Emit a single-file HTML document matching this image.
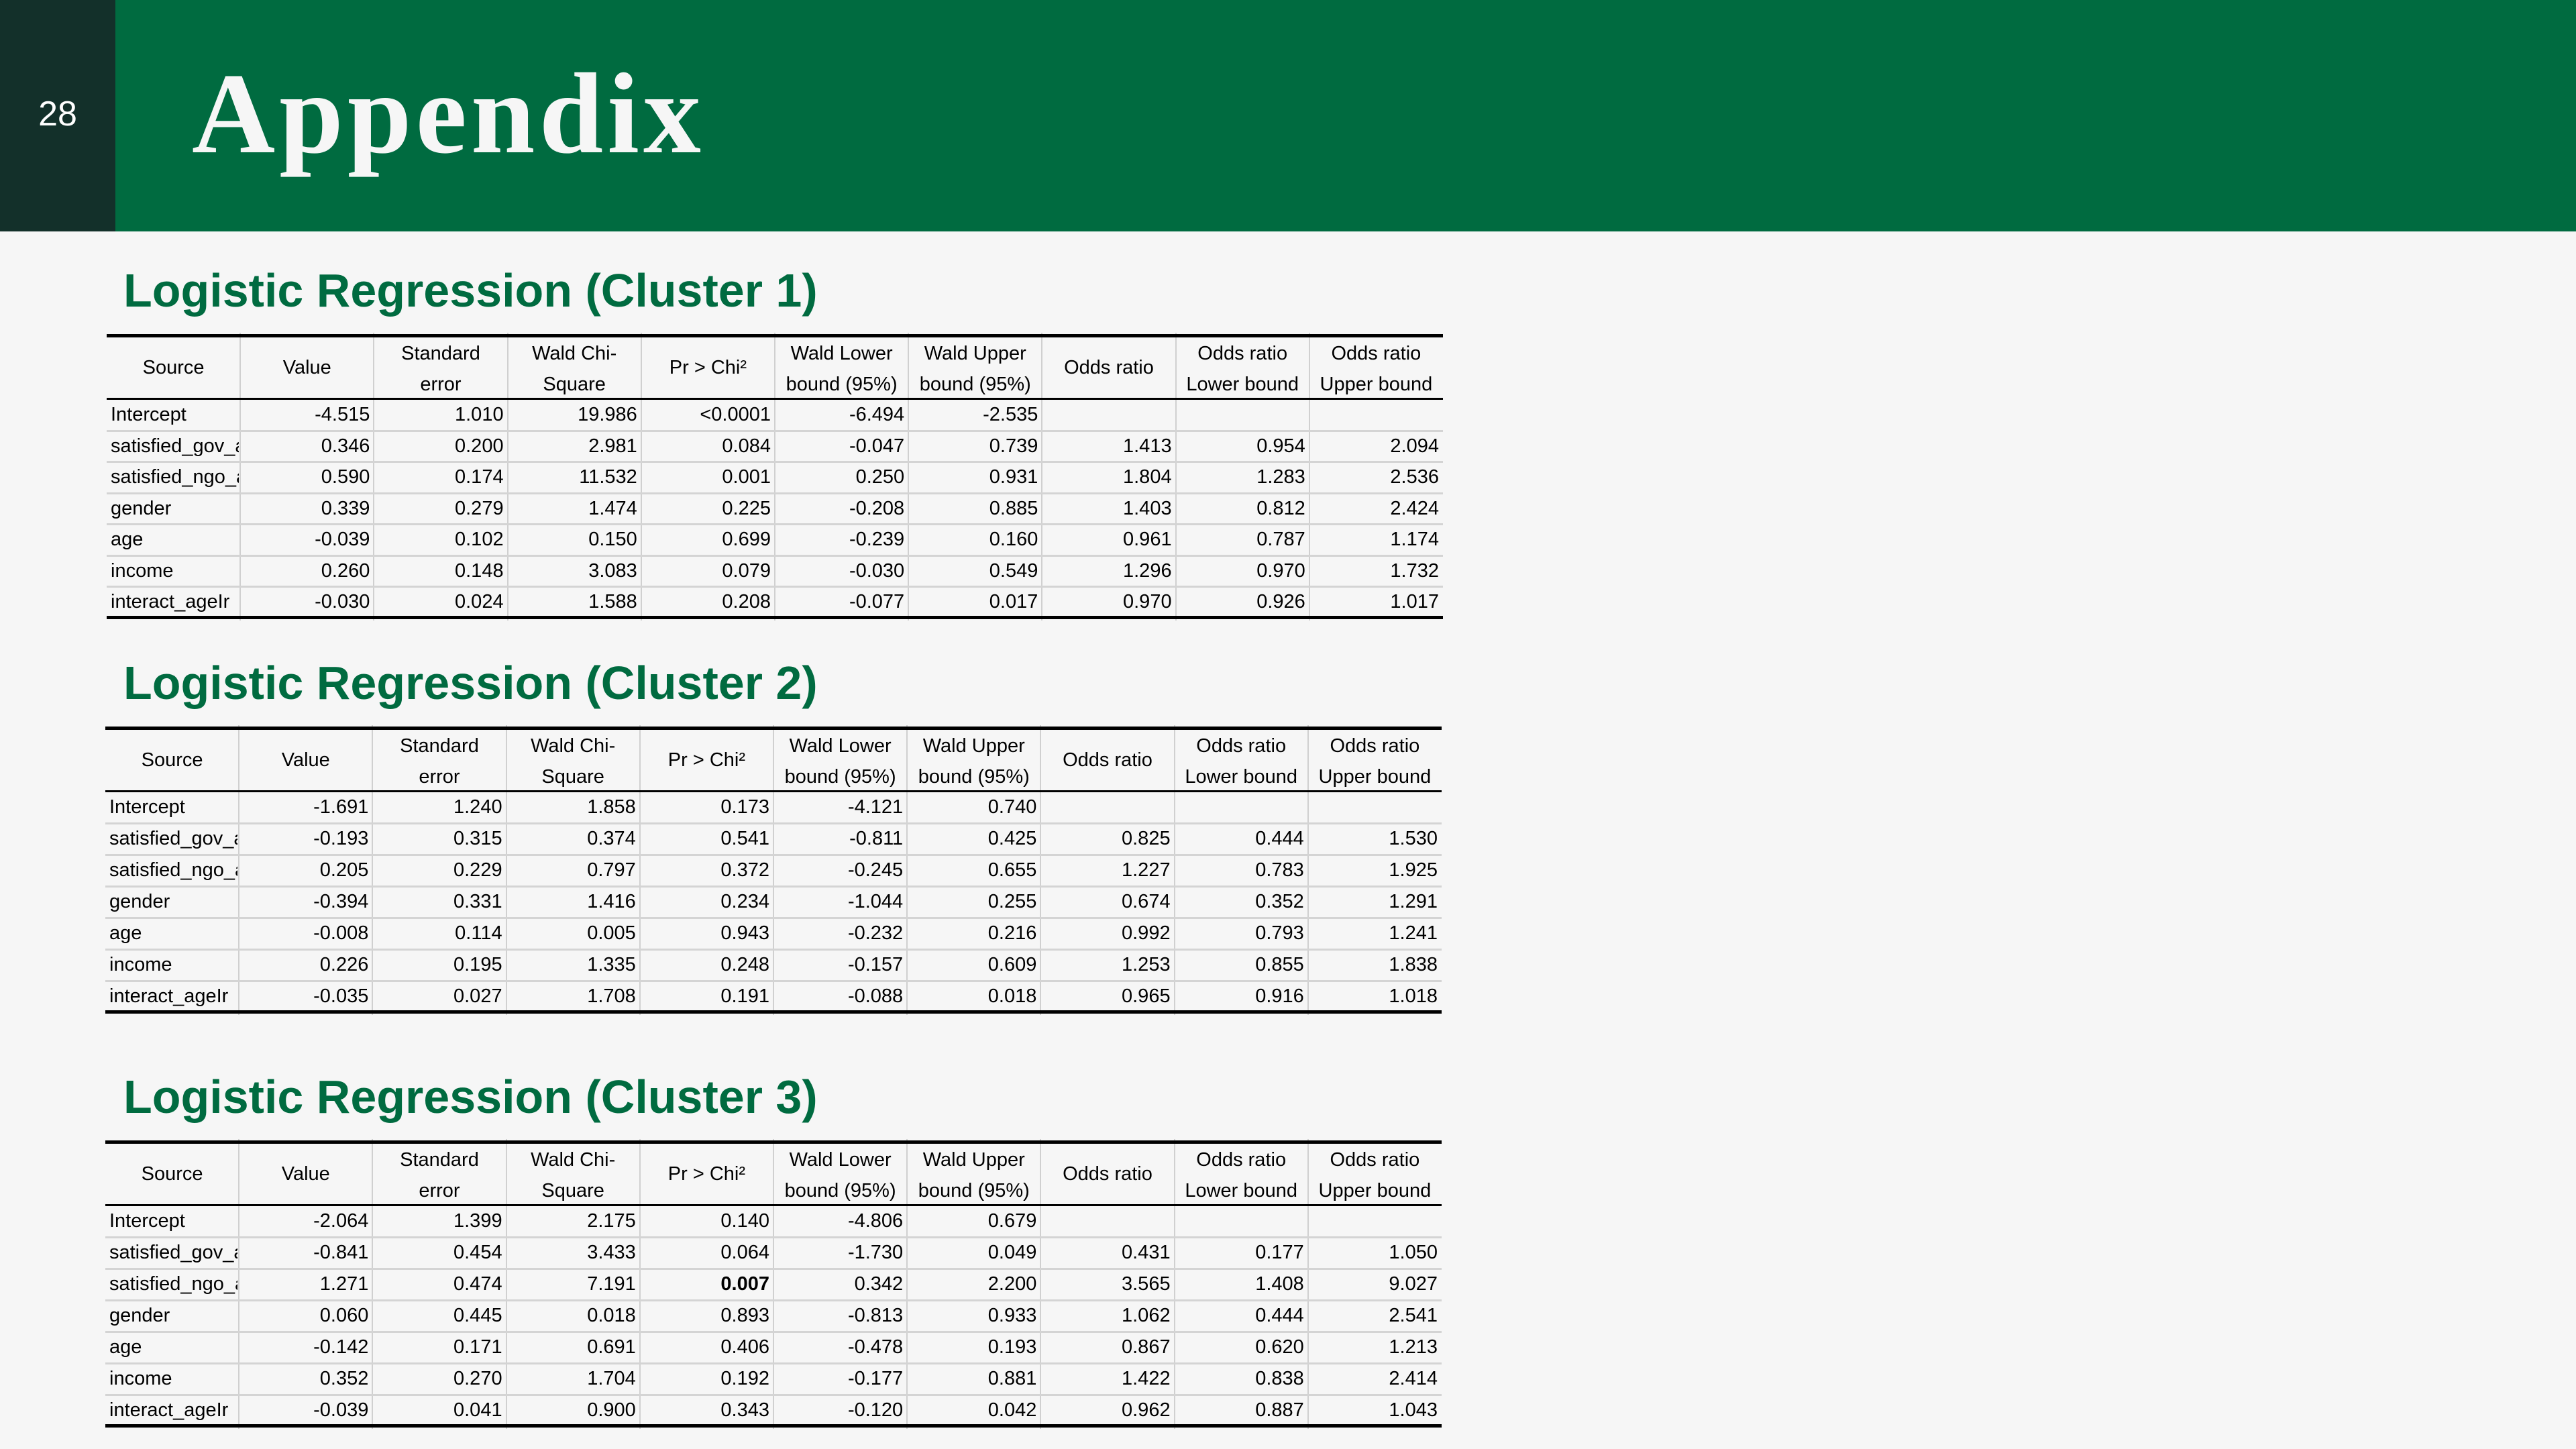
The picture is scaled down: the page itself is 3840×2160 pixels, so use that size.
<!DOCTYPE html>
<html><head><meta charset="utf-8">
<style>
html,body{margin:0;padding:0}
body{width:3840px;height:2160px;background:#f6f6f6;position:relative;overflow:hidden;font-family:"Liberation Sans",sans-serif}
#band{position:absolute;left:0;top:0;width:3840px;height:345px;background:#006b40}
#blk{position:absolute;left:0;top:0;width:172px;height:345px;background:#13302a}
#pg{position:absolute;left:0;width:172px;top:140px;text-align:center;color:#fff;font-size:52px}
#title{position:absolute;left:286px;top:72px;color:#f6f6f6;font-family:"Liberation Serif",serif;font-weight:bold;font-size:172px;letter-spacing:6px}
.h{position:absolute;left:184px;color:#006b40;font-weight:bold;font-size:70px;white-space:nowrap}
.tbl{position:absolute}
.c{position:absolute;font-size:29px;color:#000;white-space:nowrap;overflow:hidden;box-sizing:border-box;transform-origin:left top}
.vl{position:absolute;width:2px;background:#d0d0d0}
.hl{position:absolute;height:3px;background:#d4d4d4}
.bl{position:absolute;background:#000}
</style></head>
<body>
<div id="band"></div>
<div id="blk"></div>
<div id="pg">28</div>
<div id="title">Appendix</div>
<div class="h" style="top:393px">Logistic Regression (Cluster 1)</div>
<div class="h" style="top:978px">Logistic Regression (Cluster 2)</div>
<div class="h" style="top:1595px">Logistic Regression (Cluster 3)</div>
<script>
const headers1=["Source","Value","Standard","Wald Chi-","Pr > Chi²","Wald Lower","Wald Upper","Odds ratio","Odds ratio","Odds ratio"];
const headers2=["","","error","Square","","bound (95%)","bound (95%)","","Lower bound","Upper bound"];
const sources=["Intercept","satisfied_gov_a","satisfied_ngo_a","gender","age","income","interact_ageIr"];
const cluster1=[
["-4.515","1.010","19.986","<0.0001","-6.494","-2.535","","",""],
["0.346","0.200","2.981","0.084","-0.047","0.739","1.413","0.954","2.094"],
["0.590","0.174","11.532","0.001","0.250","0.931","1.804","1.283","2.536"],
["0.339","0.279","1.474","0.225","-0.208","0.885","1.403","0.812","2.424"],
["-0.039","0.102","0.150","0.699","-0.239","0.160","0.961","0.787","1.174"],
["0.260","0.148","3.083","0.079","-0.030","0.549","1.296","0.970","1.732"],
["-0.030","0.024","1.588","0.208","-0.077","0.017","0.970","0.926","1.017"]];
const cluster2=[
["-1.691","1.240","1.858","0.173","-4.121","0.740","","",""],
["-0.193","0.315","0.374","0.541","-0.811","0.425","0.825","0.444","1.530"],
["0.205","0.229","0.797","0.372","-0.245","0.655","1.227","0.783","1.925"],
["-0.394","0.331","1.416","0.234","-1.044","0.255","0.674","0.352","1.291"],
["-0.008","0.114","0.005","0.943","-0.232","0.216","0.992","0.793","1.241"],
["0.226","0.195","1.335","0.248","-0.157","0.609","1.253","0.855","1.838"],
["-0.035","0.027","1.708","0.191","-0.088","0.018","0.965","0.916","1.018"]];
const cluster3=[
["-2.064","1.399","2.175","0.140","-4.806","0.679","","",""],
["-0.841","0.454","3.433","0.064","-1.730","0.049","0.431","0.177","1.050"],
["1.271","0.474","7.191","0.007","0.342","2.200","3.565","1.408","9.027"],
["0.060","0.445","0.018","0.893","-0.813","0.933","1.062","0.444","2.541"],
["-0.142","0.171","0.691","0.406","-0.478","0.193","0.867","0.620","1.213"],
["0.352","0.270","1.704","0.192","-0.177","0.881","1.422","0.838","2.414"],
["-0.039","0.041","0.900","0.343","-0.120","0.042","0.962","0.887","1.043"]];
function mk(cls,parent){const d=document.createElement('div');d.className=cls;parent.appendChild(d);return d;}
function table(id,data,x0,top,bottom){
  const W=1992,cw=W/10,hh=95,rh=(bottom-top-hh)/7;
  const t=mk('tbl',document.body);t.style.left=x0+'px';t.style.top=top+'px';t.style.width=W+'px';t.style.height=(bottom-top)+'px';
  
  
  for(let i=1;i<10;i++){const v=mk('vl',t);v.style.left=(i*cw-1)+'px';v.style.top='-4px';v.style.height=(bottom-top+8)+'px';
    
    }
  for(let r=1;r<7;r++){const h=mk('hl',t);h.style.left='0px';h.style.width=W+'px';h.style.top=(hh+r*rh-1)+'px';
    
    }
  const b1=mk('bl',t);b1.style.left='0';b1.style.width=W+'px';b1.style.top='-2px';b1.style.height='5px';
  
  
  const b2=mk('bl',t);b2.style.left='0';b2.style.width=W+'px';b2.style.top=(hh-2)+'px';b2.style.height='3px';
  
  
  const b3=mk('bl',t);b3.style.left='0';b3.style.width=W+'px';b3.style.top=(bottom-top-3)+'px';b3.style.height='5px';
  
  
  for(let c=0;c<10;c++){
    const two=headers2[c]!=="";
    const a=mk('c',t);a.textContent=headers1[c];a.style.left=(c*cw)+'px';a.style.width=cw+'px';a.style.textAlign='center';
    a.style.top=(two?11:32)+'px';
    
    
    if(two){const b=mk('c',t);b.textContent=headers2[c];b.style.left=(c*cw)+'px';b.style.width=cw+'px';b.style.textAlign='center';b.style.top='57px';
      
      }
  }
  for(let r=0;r<7;r++){
    const y=hh+r*rh+7;
    const s=mk('c',t);s.textContent=sources[r];s.style.left='6px';s.style.width=(cw-8)+'px';s.style.top=y+'px';
    
    
    for(let c=0;c<9;c++){
      const d=mk('c',t);d.textContent=data[r][c];d.style.left=((c+1)*cw)+'px';d.style.width=(cw-6)+'px';d.style.textAlign='right';d.style.top=y+'px';
      if(id==='cluster3'&&r===2&&c===3)d.style.fontWeight='bold';
      
      
    }
  }
}
table('cluster1',cluster1,159,500,921);
table('cluster2',cluster2,157,1085,1509);
table('cluster3',cluster3,157,1702,2126);
</script>
</body></html>
